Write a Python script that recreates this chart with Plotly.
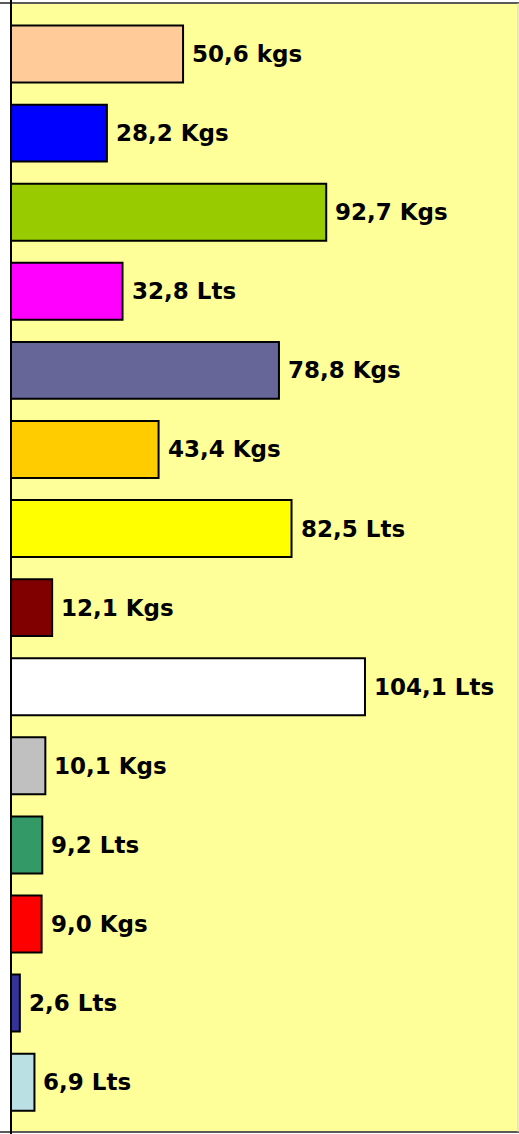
import plotly.graph_objects as go

values = [50.6, 28.2, 92.7, 32.8, 78.8, 43.4, 82.5, 12.1, 104.1, 10.1, 9.2, 9.0, 2.6, 6.9]
labels = ["50,6 kgs", "28,2 Kgs", "92,7 Kgs", "32,8 Lts", "78,8 Kgs", "43,4 Kgs", "82,5 Lts",
          "12,1 Kgs", "104,1 Lts", "10,1 Kgs", "9,2 Lts", "9,0 Kgs", "2,6 Lts", "6,9 Lts"]
colors = ["#FFCC99", "#0000FF", "#99CC00", "#FF00FF", "#666699", "#FFCC00", "#FFFF00",
          "#800000", "#FFFFFF", "#C0C0C0", "#339966", "#FF0000", "#333399", "#BBE0E3"]

idx = list(range(len(values)))

fig = go.Figure()
fig.add_trace(go.Bar(
    x=values, y=idx, orientation="h",
    marker=dict(color=colors, line=dict(color="black", width=2)),
    width=0.72, hoverinfo="skip",
))

for i, (v, t) in enumerate(zip(values, labels)):
    fig.add_annotation(x=v, y=i, text="<b>%s</b>" % t, showarrow=False,
                       xanchor="left", yanchor="middle", xshift=7,
                       font=dict(family="DejaVu Sans", size=23, color="black"))

# frame lines
fig.add_shape(type="line", xref="paper", yref="paper", x0=-0.03, x1=1.01, y0=1, y1=1,
              line=dict(color="#5a5a5a", width=2), layer="above")
fig.add_shape(type="line", xref="paper", yref="paper", x0=-0.03, x1=1.01, y0=0, y1=0,
              line=dict(color="#5a5a5a", width=2), layer="above")
fig.add_shape(type="line", xref="paper", yref="paper", x0=1, x1=1, y0=0, y1=1,
              line=dict(color="#D6D68A", width=1), layer="above")
fig.add_shape(type="line", xref="paper", yref="paper", x0=0, x1=0, y0=-0.01, y1=1.01,
              line=dict(color="black", width=2), layer="above")

fig.update_layout(
    width=519, height=1134,
    margin=dict(l=11, r=1, t=3, b=2),
    paper_bgcolor="white", plot_bgcolor="#FFFF99",
    showlegend=False,
    xaxis=dict(range=[0, 149.1], showgrid=False, zeroline=False, showticklabels=False,
               ticks="", showline=False),
    yaxis=dict(range=[13.63, -0.645], showgrid=False, zeroline=False, showticklabels=False,
               ticks="", showline=False),
)

fig.write_html("out.html", config={"displayModeBar": False},
               post_script="document.body.style.margin='0';document.body.style.overflow='hidden';")
